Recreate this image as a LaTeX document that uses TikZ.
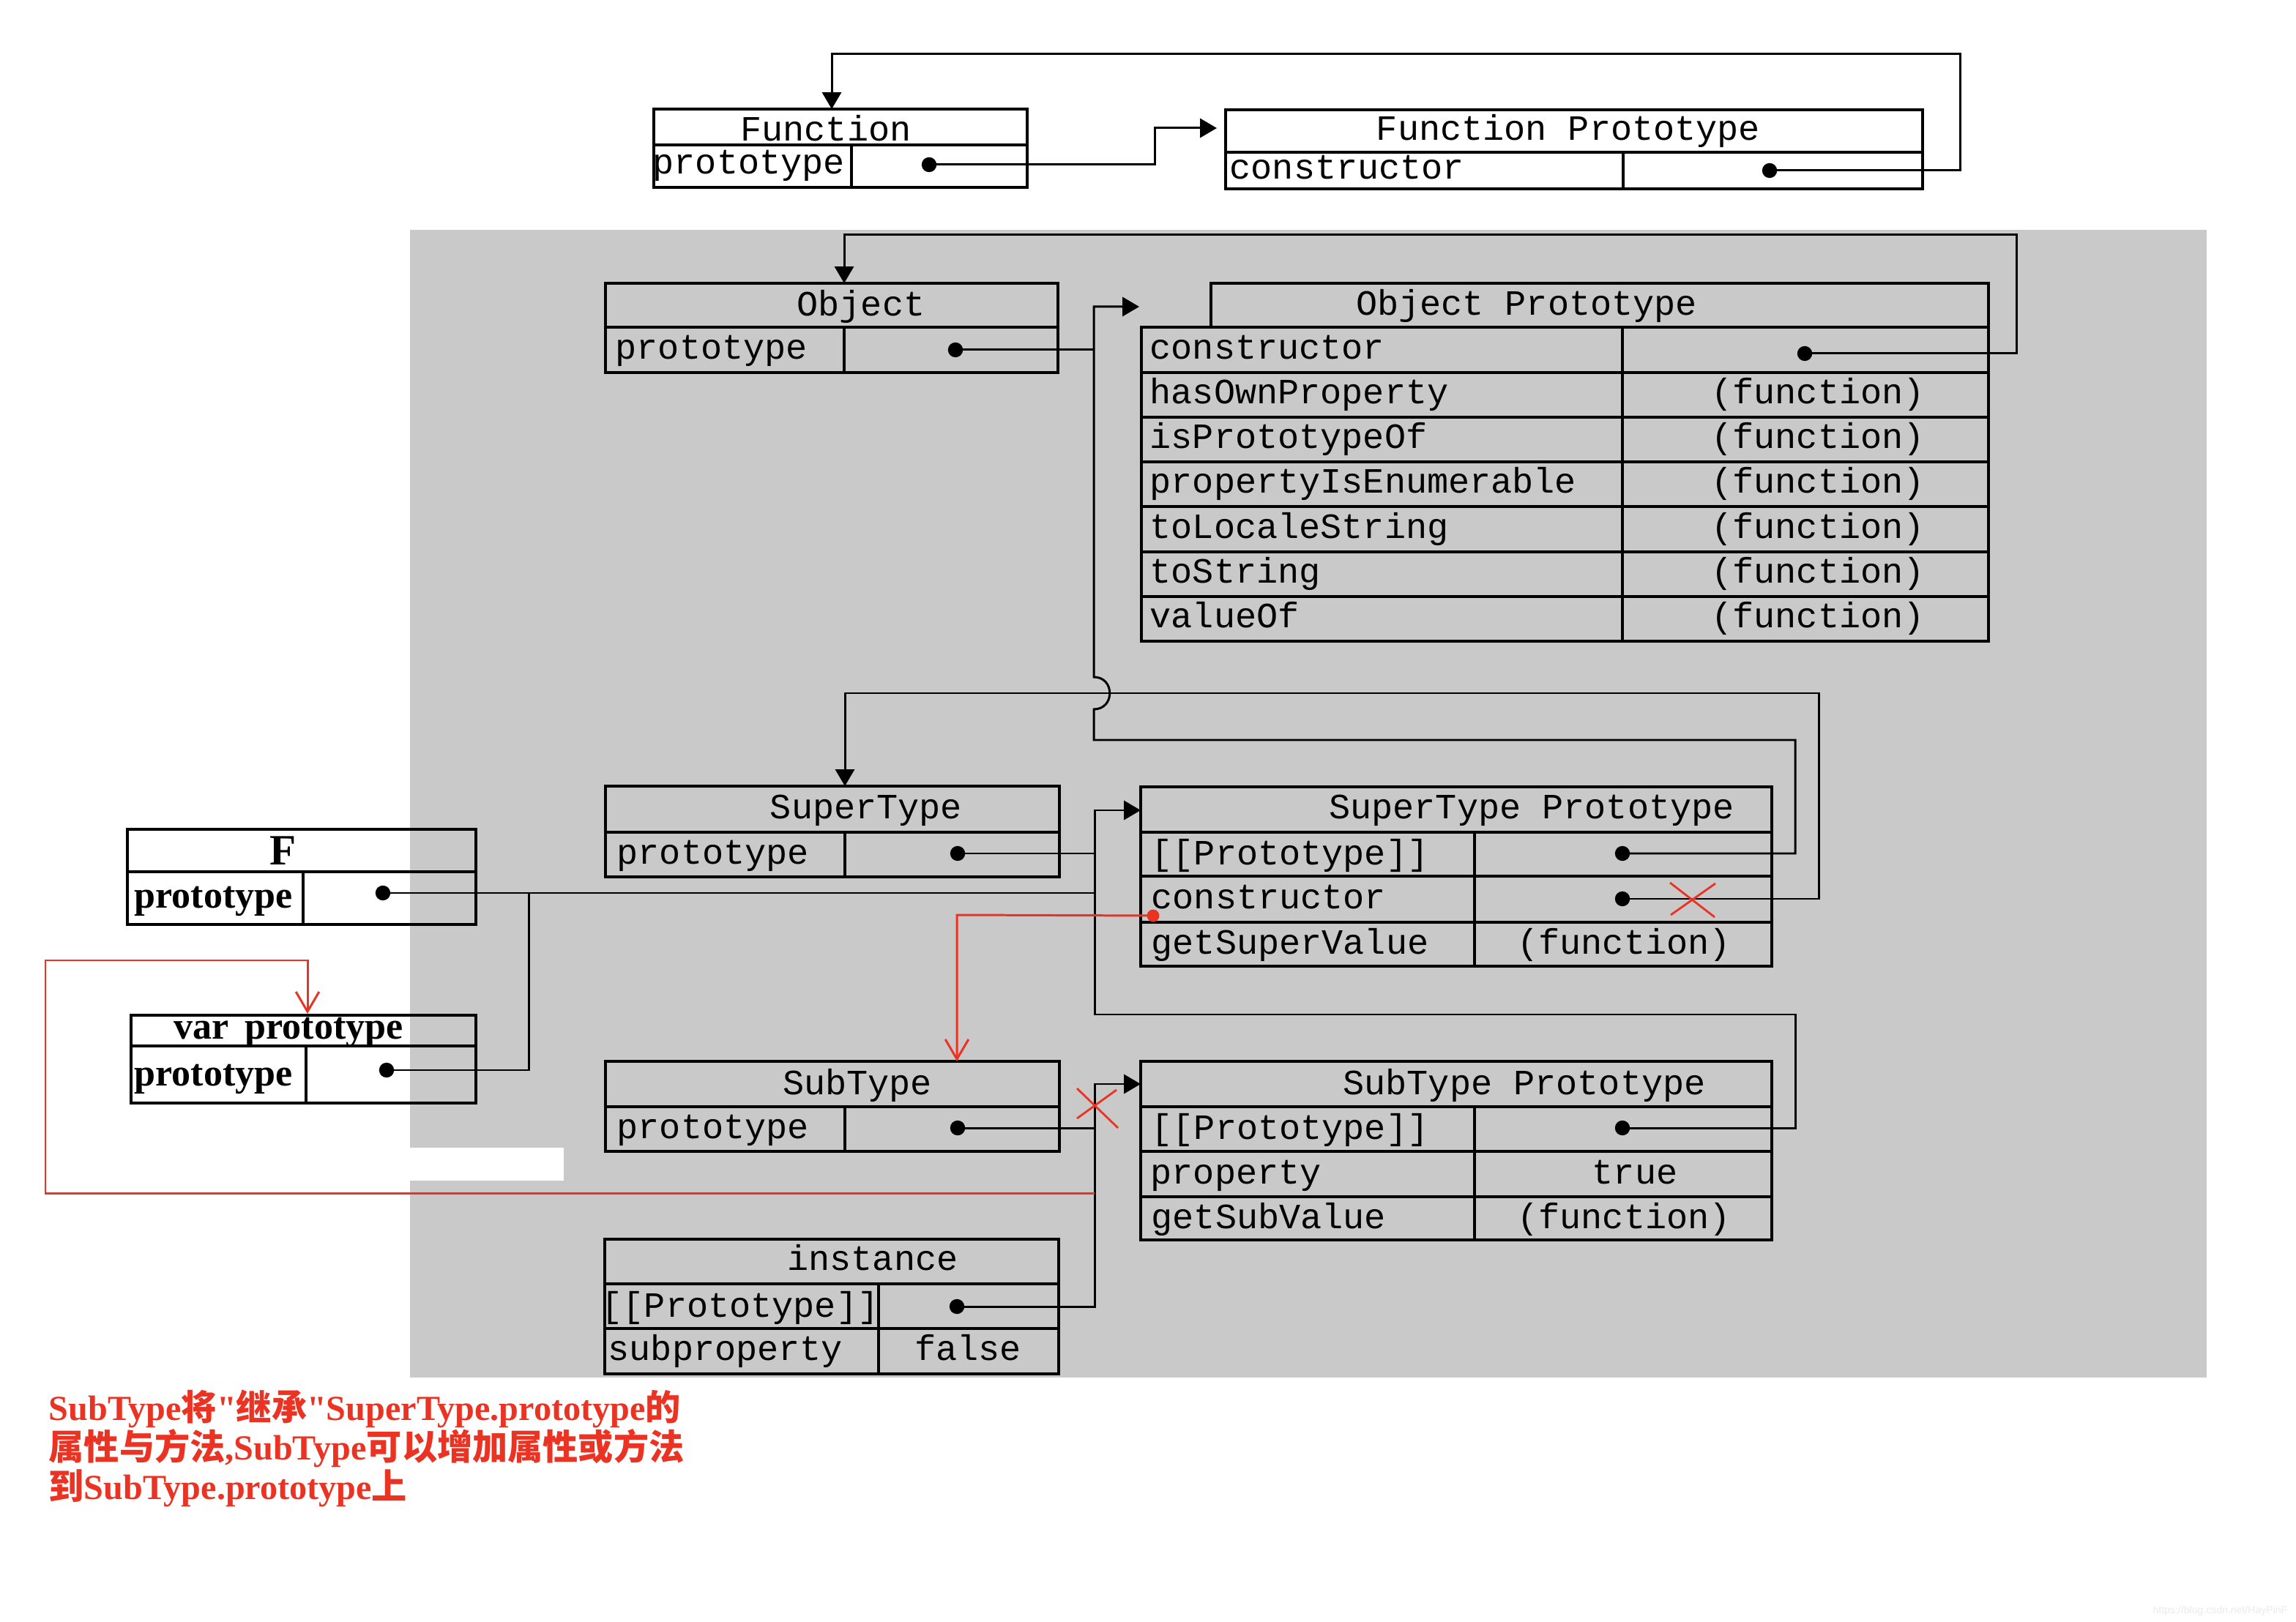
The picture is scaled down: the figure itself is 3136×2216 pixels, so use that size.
\documentclass[tikz,border=0pt]{standalone}
\usepackage{fontspec}
\usetikzlibrary{arrows.meta}
\newfontfamily\monof{Liberation Mono}
\newfontfamily\serf{Liberation Serif}
\newfontfamily\cjkf{Noto Sans CJK SC}
\newfontfamily\wmf{Liberation Sans}
\definecolor{bggray}{RGB}{201,201,201}
\definecolor{annred}{RGB}{234,51,35}
\newcommand\redlat[1]{{\serf\bfseries\fontsize{13.7}{15}\selectfont #1}}
\newcommand\redcjk[1]{{\cjkf\bfseries\fontsize{13.7}{15}\selectfont #1}}
\begin{document}
\begin{tikzpicture}[x=0.01cm,y=-0.01cm,
  box/.style={line width=0.9pt},
  fbox/.style={line width=1.2pt},
  conn/.style={line width=0.85pt},
  arr/.style={conn,-{Triangle[length=6.5pt,width=7.4pt]}},
  redl/.style={annred,line width=0.85pt},
  redarr/.style={redl,-{Straight Barb[length=7.7pt,width=9pt]}},
  mono/.style={font=\monof\fontsize{13.8}{16}\selectfont, inner sep=0pt},
  lbl/.style={mono,anchor=base west},
  ctr/.style={mono,anchor=base},
  boldf/.style={font=\serf\bfseries\fontsize{14.8}{17}\selectfont, inner sep=0pt, anchor=base west},
  dotfill/.style={fill=black},
  redx/.style={annred,line width=0.8pt}]

\useasboundingbox (0,0) rectangle (3136,2216);
\fill[white] (0,0) rectangle (3136,2216);
\fill[bggray] (560,314) rectangle (3014,1882);
\fill[white] (560,1568) rectangle (770,1613);

% ---------------- boxes ----------------
% Function
\draw[box] (893,149) rectangle (1403,256) (893,198) -- (1403,198) (1163,198) -- (1163,256);
% Function Prototype
\draw[box] (1674,150) rectangle (2626,258) (1674,208) -- (2626,208) (2217,208) -- (2217,258);
% Object
\draw[box] (827,387) rectangle (1445,509) (827,447) -- (1445,447) (1153,447) -- (1153,509);
% Object Prototype
\draw[box] (1654,387) rectangle (2716,447);
\draw[box] (1559,447) rectangle (2716,876);
\foreach \yy in {509,570,631,692,754,815} \draw[box] (1559,\yy) -- (2716,\yy);
\draw[box] (2216,447) -- (2216,876);
% SuperType
\draw[box] (827,1074) rectangle (1447,1198) (827,1137) -- (1447,1137) (1154,1137) -- (1154,1198);
% SuperType Prototype
\draw[box] (1558,1075) rectangle (2420,1320);
\foreach \yy in {1137,1197,1260} \draw[box] (1558,\yy) -- (2420,\yy);
\draw[box] (2014,1137) -- (2014,1320);
% SubType
\draw[box] (827,1450) rectangle (1447,1573) (827,1512) -- (1447,1512) (1154,1512) -- (1154,1573);
% SubType Prototype
\draw[box] (1558,1450) rectangle (2420,1694);
\foreach \yy in {1512,1573,1635} \draw[box] (1558,\yy) -- (2420,\yy);
\draw[box] (2014,1512) -- (2014,1694);
% instance
\draw[box] (826,1693) rectangle (1446,1877);
\foreach \yy in {1754,1815} \draw[box] (826,\yy) -- (1446,\yy);
\draw[box] (1200,1754) -- (1200,1877);
% F
\draw[fbox] (174,1133) rectangle (650,1263) (174,1191) -- (650,1191) (414,1191) -- (414,1263);
% var prototype
\draw[fbox] (179,1387) rectangle (650,1507) (179,1429) -- (650,1429) (418,1429) -- (418,1507);

% ---------------- texts ----------------
\node[ctr] (tFn) at (1128,193) {Function};
\node[lbl] (tFnP) at (891,238) {prototype};
\node[ctr] (tFP) at (2142,192) {Function Prototype};
\node[lbl] (tFPc) at (1679,245) {constructor};

\node[ctr] (tObj) at (1176,432) {Object};
\node[lbl] (tObjP) at (840,491) {prototype};
\node[ctr] (tOP) at (2085,431) {Object Prototype};
\node[lbl] (tOP1) at (1570,491) {constructor};
\node[lbl] (tOP2) at (1570,552) {hasOwnProperty};
\node[lbl] (tOP3) at (1570,613) {isPrototypeOf};
\node[lbl] (tOP4) at (1570,674) {propertyIsEnumerable};
\node[lbl] (tOP5) at (1570,736) {toLocaleString};
\node[lbl] (tOP6) at (1570,797) {toString};
\node[lbl] (tOP7) at (1570,858) {valueOf};
\node[ctr] (vOP2) at (2483,552) {(function)};
\node[ctr] (vOP3) at (2483,613) {(function)};
\node[ctr] (vOP4) at (2483,674) {(function)};
\node[ctr] (vOP5) at (2483,736) {(function)};
\node[ctr] (vOP6) at (2483,797) {(function)};
\node[ctr] (vOP7) at (2483,858) {(function)};

\node[ctr] (tSup) at (1183,1119) {SuperType};
\node[lbl] (tSupP) at (842,1180) {prototype};
\node[ctr] (tSP) at (2092,1119) {SuperType Prototype};
\node[lbl] (tSP1) at (1572,1181) {[[Prototype]]};
\node[lbl] (tSP2) at (1572,1241) {constructor};
\node[lbl] (tSP3) at (1572,1303) {getSuperValue};
\node[ctr] (vSP3) at (2218,1303) {(function)};

\node[ctr] (tSub) at (1171,1495) {SubType};
\node[lbl] (tSubP) at (842,1555) {prototype};
\node[ctr] (tBP) at (2082,1495) {SubType Prototype};
\node[lbl] (tBP1) at (1572,1556) {[[Prototype]]};
\node[lbl] (tBP2) at (1571,1617) {property};
\node[ctr] (vBP2) at (2233,1617) {true};
\node[lbl] (tBP3) at (1572,1678) {getSubValue};
\node[ctr] (vBP3) at (2218,1678) {(function)};

\node[ctr] (tIn) at (1192,1735) {instance};
\node[lbl] (tIn1) at (821,1799) {[[Prototype]]};
\node[lbl] (tIn2) at (830,1858) {subproperty};
\node[ctr] (vIn2) at (1322,1858) {false};

\node[font=\serf\bfseries\fontsize{16.8}{19}\selectfont, inner sep=0pt, anchor=base] (tF) at (387,1182) {F};
\node[boldf] (tFp) at (183,1240) {prototype};
\node[boldf] (tV) at (237,1419) {var\hspace{0.42em}prototype};
\node[boldf] (tVp) at (183,1483) {prototype};

% ---------------- dots ----------------
\coordinate (dFn) at (1269,225);
\coordinate (dFP) at (2417,233);
\coordinate (dObj) at (1305,478);
\coordinate (dOP) at (2465,483);
\coordinate (dSP1) at (2216,1166);
\coordinate (dSP2) at (2216,1228);
\coordinate (dSup) at (1308,1166);
\coordinate (dBP1) at (2216,1541);
\coordinate (dSub) at (1308,1541);
\coordinate (dIn) at (1307,1785);
\coordinate (dF) at (523,1220);
\coordinate (dV) at (528,1462);
\coordinate (dRed) at (1575,1251);
\foreach \d in {dFn,dFP,dObj,dOP,dSP1,dSP2,dSup,dBP1,dSub,dIn,dF,dV}
  \fill[dotfill] (\d) circle (2.9pt);
\fill[annred] (dRed) circle (2.4pt);

% arrow targets
\coordinate (inFP) at (1662,175);
\coordinate (inFn) at (1136,149);
\coordinate (inOP) at (1556,419);
\coordinate (inObj) at (1153,387);
\coordinate (inSP) at (1558,1107);
\coordinate (inSup) at (1154,1074);
\coordinate (inBP) at (1558,1481);
\coordinate (inSub) at (1307,1450);
\coordinate (inV) at (420,1385);
\coordinate (bus) at (1495,1220);
\coordinate (redStart) at (1495,1630);

% ---------------- connectors ----------------
\draw[arr] (dFn) -- (1577,225) -- (1577,175) -- (inFP);
\draw[arr] (dFP) -- (2677,233) -- (2677,74) -- (1136,74) -- (inFn);
\draw[conn] (dObj) -- (1494,478);
\draw[arr] (dSP1) -- (2452,1166) -- (2452,1011) -- (1494,1011) -- (1494,969)
   .. controls (1523,969) and (1523,925) .. (1494,925) -- (1494,419) -- (inOP);
\draw[arr] (dOP) -- (2754,483) -- (2754,321) -- (1153,321) -- (inObj);
\draw[arr] (dSP2) -- (2484,1228) -- (2484,947) -- (1154,947) -- (inSup);
\draw[conn] (dSup) -- (1495,1166);
\draw[arr] (dBP1) -- (2452,1541) -- (2452,1386) -- (1495,1386) -- (1495,1107) -- (inSP);
\draw[conn] (dF) -- (bus);
\draw[conn] (dV) -- (722,1462) -- (722,1220);
\draw[conn] (dSub) -- (1495,1541);
\draw[arr] (dIn) -- (1495,1785) -- (1495,1481) -- (inBP);

% red annotations
\draw[redarr] (dRed) -- (1307,1250) -- (inSub);
\draw[redarr] (redStart) -- (62,1630) -- (62,1312) -- (420,1312) -- (inV);
\draw[redx] (2281,1206) -- (2342,1253) (2343,1207) -- (2282,1250);
\draw[redx] (1471,1487) -- (1527,1541) (1471,1528) -- (1525,1489);

% red note
\node[annred, inner sep=0pt, anchor=base west] (n1) at (66,1940)
  {\redlat{SubType}\redcjk{将}\redlat{"}\redcjk{继承}\redlat{"SuperType.prototype}\redcjk{的}};
\node[annred, inner sep=0pt, anchor=base west] (n2) at (66,1994)
  {\redcjk{属性与方法}\redlat{,SubType}\redcjk{可以增加属性或方法}};
\node[annred, inner sep=0pt, anchor=base west] (n3) at (66,2048)
  {\redcjk{到}\redlat{SubType.prototype}\redcjk{上}};

% watermark
\node[font=\wmf\fontsize{4}{5}\selectfont, text=black!8, inner sep=0pt, anchor=base east] (wm) at (3125,2204) {https://blog.csdn.net/HayPinF};
\end{tikzpicture}
\end{document}
